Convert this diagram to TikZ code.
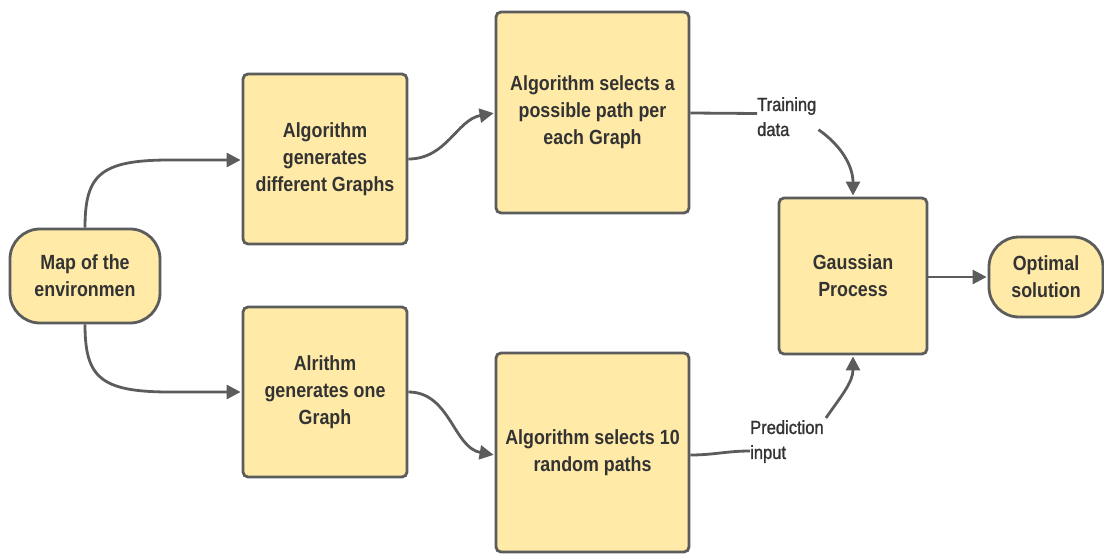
\documentclass[tikz,border=0pt]{standalone}
\usepackage{fontspec}
\setmainfont{Liberation Sans}[FakeStretch=0.87]
\newfontfamily\labelfont{Liberation Sans}[FakeStretch=0.87, FakeBold=1.2]
\usetikzlibrary{arrows.meta,calc}
\definecolor{boxfill}{HTML}{FFEAA7}
\definecolor{edge}{HTML}{5C5C5C}
\definecolor{ink}{HTML}{333333}
\tikzset{
  box/.style={draw=edge, fill=boxfill, line width=2.8pt, rounded corners=5pt,
    align=center, text=ink, font=\fontsize{20.5}{27}\selectfont\bfseries, inner sep=2pt},
  pill/.style={box, rounded corners=30pt},
  lbl/.style={align=left, text=ink, inner sep=0pt, font=\labelfont\fontsize{19}{25}\selectfont},
  link/.style={draw=edge, line width=2.8pt},
  arrow/.style={link, -{Triangle[length=14pt,width=14pt]}, shorten >=1pt},
}
\begin{document}
\begin{tikzpicture}[x=1pt,y=-1pt]
\useasboundingbox (0,0) rectangle (1104,554);

% process nodes
\node[pill, minimum width=150pt, minimum height=94pt] (map) at (85,276) {Map of the\\environmen};
\node[box, minimum width=164pt, minimum height=170pt] (gen) at (325,159) {Algorithm\\generates\\different Graphs};
\node[box, minimum width=164pt, minimum height=170pt] (one) at (325,392) {Alrithm\\generates one\\Graph};
\node[box, minimum width=193pt, minimum height=201pt] (sel) at (592.5,112.5) {Algorithm selects a\\possible path per\\each Graph};
\node[box, minimum width=193pt, minimum height=199pt] (rnd) at (592.5,452.5) {Algorithm selects 10\\random paths};
\node[box, minimum width=148pt, minimum height=156pt] (gp) at (853,276) {Gaussian\\Process};
\node[pill, minimum width=114pt, minimum height=80pt] (opt) at (1046,277) {Optimal\\solution};

% edge labels
\node[lbl, anchor=north west] (train) at (757,97) {Training\\data};
\node[lbl, anchor=north west] (pred) at (750,420) {Prediction\\input};

% connectors
\draw[arrow] (map.north) .. controls (85,175) and (100,160) .. (170,160) -- (gen.west |- 0,160);
\draw[arrow] (map.south) .. controls (85,377) and (100,392) .. (170,392) -- (one.west |- 0,392);
\draw[arrow] (gen.east |- 0,159) to[out=0,in=190] (sel.west |- 0,113);
\draw[arrow] (one.east |- 0,392) to[out=0,in=170] (rnd.west |- 0,455);
\draw[link] (sel.east |- 0,113) -- (train.west |- 0,113.5);
\draw[arrow] ($(train.east)+(2,13)$) to[out=-35,in=90] (gp.north);
\draw[link] (rnd.east |- 0,455) to[out=0,in=180] (pred.west |- 0,451);
\draw[arrow] ($(pred.north east)+(2,-2)$) to[out=55,in=-90] (gp.south);
\draw[arrow] (gp.east |- 0,277) -- (opt.west |- 0,277);
\end{tikzpicture}
\end{document}
